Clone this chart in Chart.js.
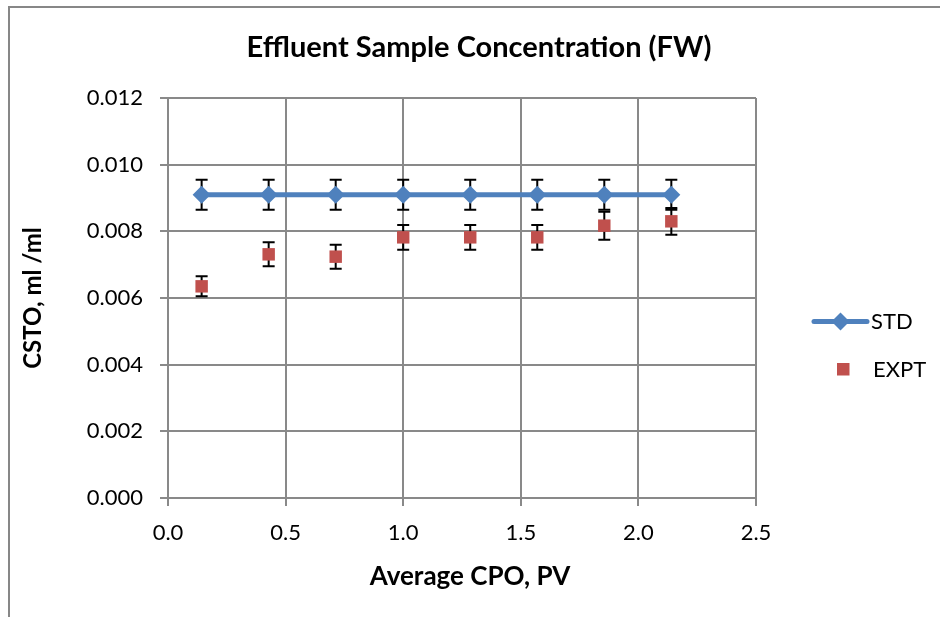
<!DOCTYPE html>
<html>
<head>
<meta charset="utf-8">
<script src="https://cdn.jsdelivr.net/npm/chart.js@4/dist/chart.umd.min.js"></script>
<style>
  html, body { margin: 0; padding: 0; background: #fff; }
  #wrap { position: relative; width: 940px; height: 617px; overflow: hidden; }
  #frame { position: absolute; left: 8px; top: 6px; width: 960px; height: 640px;
           border-top: 2px solid #878787; border-left: 2px solid #878787; pointer-events: none; }
  canvas { position: absolute; left: 0; top: 0; }
</style>
</head>
<body>
<div id="wrap">
  <canvas id="c" width="940" height="617"></canvas>
  <div id="frame"></div>
</div>
<script>
// ---- data ----
const chartTitle = "Effluent Sample Concentration (FW)";
const xAxisTitle = "Average CPO, PV";
const yAxisTitle = "CSTO, ml /ml";
const seriesNames = ["STD", "EXPT"];
const xValues   = [0.143, 0.428, 0.713, 1.000, 1.285, 1.570, 1.855, 2.140];
const stdValues = [0.0091, 0.0091, 0.0091, 0.0091, 0.0091, 0.0091, 0.0091, 0.0091];
const stdErrors = [0.00045, 0.00045, 0.00045, 0.00045, 0.00045, 0.00045, 0.00045, 0.00045];
const exptValues = [0.00635, 0.00731, 0.00724, 0.00782, 0.00782, 0.00782, 0.00817, 0.00830];
const exptErrors = [0.00030, 0.00036, 0.00036, 0.00037, 0.00037, 0.00037, 0.00042, 0.00040];
const xTicks = [0.0, 0.5, 1.0, 1.5, 2.0, 2.5];
const yTicks = [0.000, 0.002, 0.004, 0.006, 0.008, 0.010, 0.012];

const FONT = "Lato, 'Open Sans', sans-serif";
const BLUE = "#4F81BD";
const RED = "#C0504D";
const GRID = "#898989";

const toPts = (vals) => xValues.map((x, i) => ({ x: x, y: vals[i] }));

const errorBars = {
  id: 'errorBars',
  beforeDatasetsDraw(chart) {
    const { ctx, scales: { x, y } } = chart;
    const sets = [[stdValues, stdErrors], [exptValues, exptErrors]];
    ctx.save();
    ctx.strokeStyle = "#000";
    ctx.lineWidth = 2;
    sets.forEach(([vals, errs]) => {
      vals.forEach((v, i) => {
        const px = x.getPixelForValue(xValues[i]);
        const top = y.getPixelForValue(v + errs[i]);
        const bot = y.getPixelForValue(v - errs[i]);
        ctx.beginPath();
        ctx.moveTo(px, top); ctx.lineTo(px, bot);
        ctx.moveTo(px - 6, top); ctx.lineTo(px + 6, top);
        ctx.moveTo(px - 6, bot); ctx.lineTo(px + 6, bot);
        ctx.stroke();
      });
    });
    ctx.restore();
  }
};

const titleLegend = {
  id: 'titleLegend',
  afterDraw(chart) {
    const { ctx } = chart;
    ctx.save();
    ctx.fillStyle = "#000";
    ctx.font = "bold 29px " + FONT;
    ctx.textAlign = "center";
    ctx.textBaseline = "alphabetic";
    ctx.fillText(chartTitle, 479, 57);

    // x axis title
    ctx.font = "bold 26px " + FONT;
    ctx.textBaseline = "middle";
    ctx.fillText(xAxisTitle, 470, 577);

    // legend
    ctx.strokeStyle = BLUE;
    ctx.lineWidth = 5;
    ctx.lineCap = "round";
    ctx.beginPath();
    ctx.moveTo(814, 321.5); ctx.lineTo(867, 321.5);
    ctx.stroke();
    ctx.fillStyle = BLUE;
    ctx.beginPath();
    ctx.moveTo(840.5, 312.5); ctx.lineTo(849.5, 321.5);
    ctx.lineTo(840.5, 330.5); ctx.lineTo(831.5, 321.5);
    ctx.closePath(); ctx.fill();
    ctx.fillStyle = RED;
    ctx.fillRect(837, 363, 12.5, 12.5);

    ctx.fillStyle = "#000";
    ctx.font = "22px " + FONT;
    ctx.textAlign = "left";
    ctx.textBaseline = "middle";
    ctx.fillText(seriesNames[0], 871, 322);
    ctx.fillText(seriesNames[1], 873, 370);
    ctx.restore();
  }
};

new Chart(document.getElementById('c'), {
  type: 'scatter',
  data: {
    datasets: [
      {
        label: seriesNames[0],
        data: toPts(stdValues),
        showLine: true,
        borderColor: BLUE,
        borderWidth: 5,
        backgroundColor: BLUE,
        pointStyle: 'rectRot',
        pointRadius: 9,
        pointBorderWidth: 0,
        pointBackgroundColor: BLUE,
        tension: 0
      },
      {
        label: seriesNames[1],
        data: toPts(exptValues),
        showLine: false,
        pointStyle: 'rect',
        pointRadius: 8.8,
        pointBorderWidth: 0,
        pointBackgroundColor: RED,
        backgroundColor: RED
      }
    ]
  },
  options: {
    responsive: false,
    animation: false,
    devicePixelRatio: 1,
    layout: { padding: { left: 0, top: 98, right: 184, bottom: 0 } },
    plugins: {
      legend: { display: false },
      title: { display: false },
      tooltip: { enabled: false }
    },
    scales: {
      x: {
        type: 'linear',
        min: xTicks[0],
        max: xTicks[xTicks.length - 1],
        afterBuildTicks: (s) => { s.ticks = xTicks.map(v => ({ value: v })); },
        afterFit: (s) => { s.height = 119; },
        ticks: {
          padding: 14,
          color: "#000",
          font: { family: FONT, size: 22 },
          callback: (v) => Number(v).toFixed(1)
        },
        grid: { color: GRID, lineWidth: 2, tickLength: 8 },
        border: { color: GRID, width: 2 },
        title: { display: false }
      },
      y: {
        type: 'linear',
        min: yTicks[0],
        max: yTicks[yTicks.length - 1],
        afterBuildTicks: (s) => { s.ticks = yTicks.map(v => ({ value: v })); },
        afterFit: (s) => { s.width = 168; },
        ticks: {
          padding: 17,
          color: "#000",
          font: { family: FONT, size: 22 },
          callback: (v) => Number(v).toFixed(3)
        },
        grid: { color: GRID, lineWidth: 2, tickLength: 8 },
        border: { color: GRID, width: 2 },
        title: {
          display: true,
          text: yAxisTitle,
          color: "#000",
          font: { family: FONT, size: 24, weight: 'bold' },
          padding: { top: 19, bottom: 0 }
        }
      }
    }
  },
  plugins: [errorBars, titleLegend]
});
</script>
</body>
</html>
